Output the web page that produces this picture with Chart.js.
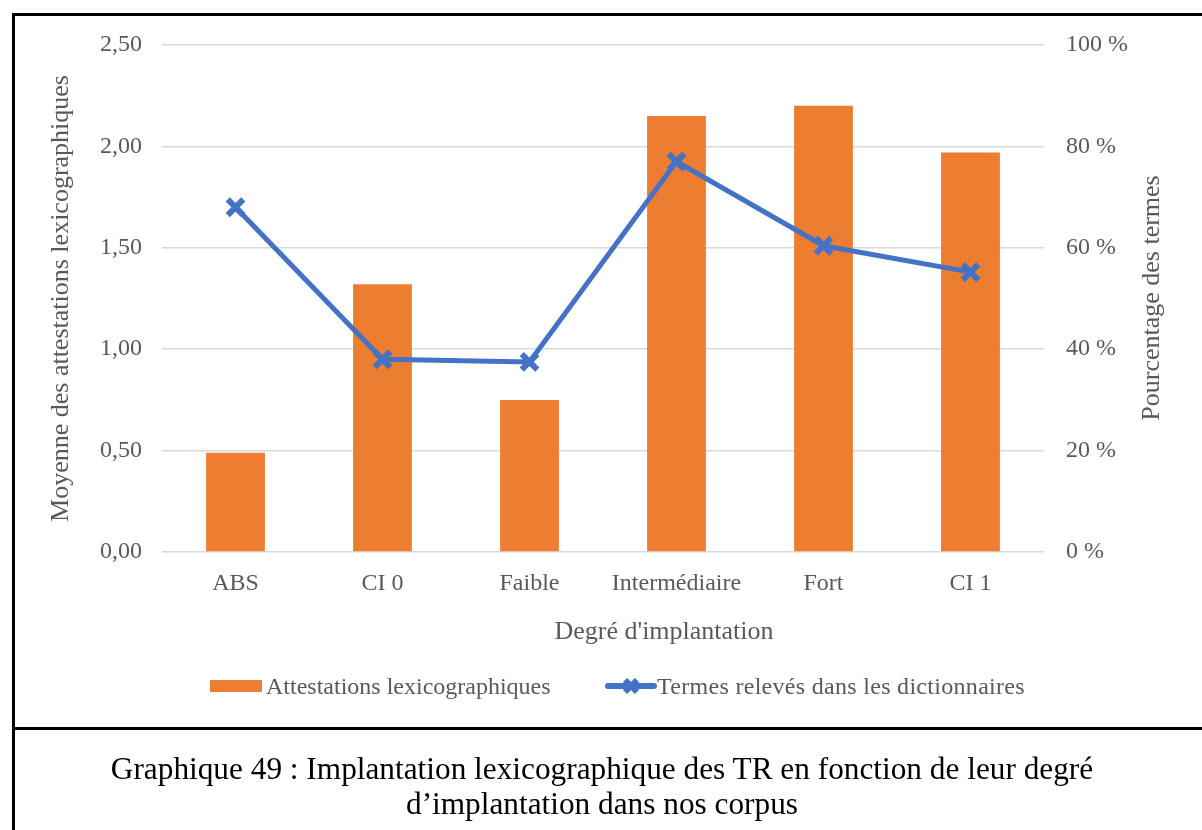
<!DOCTYPE html>
<html>
<head>
<meta charset="utf-8">
<script src="https://cdn.jsdelivr.net/npm/chart.js@4.4.1/dist/chart.umd.min.js"></script>
<style>
  html, body { margin: 0; padding: 0; background: #fff; }
  body { width: 1202px; height: 830px; position: relative; overflow: hidden; font-family: "Liberation Serif", "Times New Roman", serif; }
  #chartWrap { position: absolute; left: 0; top: 0; width: 1202px; height: 728px; }
  #frame { position: absolute; left: 12px; top: 13px; width: 1300px; height: 900px; border-left: 3px solid #000; border-top: 3px solid #000; }
  #divider { position: absolute; left: 12px; top: 727px; width: 1300px; height: 3px; background: #000; }
  #legend { position: absolute; left: 0; top: 671px; width: 1202px; height: 30px; color: #595959; font-size: 24px; }
  .item { position: absolute; top: 0; white-space: nowrap; line-height: 30px; }
  .item svg { position: absolute; top: 0; }
  #caption { position: absolute; left: 15px; top: 751px; width: 1174px; text-align: center; font-size: 31.3px; line-height: 35px; color: #000; }
</style>
</head>
<body>
<div id="chartWrap"><canvas id="chart"></canvas></div>
<div id="frame"></div>
<div id="divider"></div>
<div id="legend">
  <div class="item" style="left:210px">
    <svg width="52" height="30"><rect x="0" y="9" width="52" height="12" fill="#ED7D31"/></svg>
    <span style="margin-left:56px">Attestations lexicographiques</span>
  </div>
  <div class="item" style="left:605px">
    <svg width="52" height="30">
      <line x1="3" y1="15" x2="49" y2="15" stroke="#4472C4" stroke-width="6" stroke-linecap="round"/>
      <line x1="20" y1="9" x2="32" y2="21" stroke="#4472C4" stroke-width="6"/>
      <line x1="32" y1="9" x2="20" y2="21" stroke="#4472C4" stroke-width="6"/>
    </svg>
    <span style="margin-left:52px; letter-spacing:0.3px">Termes relevés dans les dictionnaires</span>
  </div>
</div>
<div id="caption">Graphique 49 : Implantation lexicographique des TR en fonction de leur degré<br>d’implantation dans nos corpus</div>

<script>
// degrés d'implantation
var categories = ["ABS", "CI 0", "Faible", "Intermédiaire", "Fort", "CI 1"];
// moyenne des attestations lexicographiques (axe gauche)
var attestations = [0.49, 1.32, 0.75, 2.15, 2.20, 1.97];
// pourcentage des termes relevés dans les dictionnaires (axe droit)
var termesPct = [68, 38, 37.5, 77, 60.4, 55.2];

var leftTicks = [0, 0.5, 1, 1.5, 2, 2.5];
var rightTicks = [0, 20, 40, 60, 80, 100];

var serif = "'Liberation Serif', 'Times New Roman', serif";
var grey = "#595959";

// titres posés à la main : celui de droite se lit de bas en haut,
// celui de l'axe x est décalé vers la droite
var extraTitles = {
  id: "extraTitles",
  afterDraw: function (chart) {
    var ctx = chart.ctx;
    ctx.save();
    ctx.font = "26px " + serif;
    ctx.fillStyle = grey;
    ctx.textAlign = "center";
    ctx.textBaseline = "middle";
    ctx.fillText("Degré d'implantation", 664, 632);
    ctx.translate(1152, 298);
    ctx.rotate(-Math.PI / 2);
    ctx.fillText("Pourcentage des termes", 0, 0);
    ctx.restore();
  }
};

var whiteBg = {
  id: "whiteBg",
  beforeDraw: function (chart) {
    var ctx = chart.ctx;
    ctx.save();
    ctx.fillStyle = "#fff";
    ctx.fillRect(0, 0, chart.width, chart.height);
    ctx.restore();
  }
};

var ctx = document.getElementById("chart").getContext("2d");
new Chart(ctx, {
  data: {
    labels: categories,
    datasets: [
      {
        type: "line",
        label: "Termes relevés dans les dictionnaires",
        data: termesPct,
        yAxisID: "y1",
        borderColor: "#4472C4",
        backgroundColor: "#4472C4",
        borderWidth: 5,
        tension: 0,
        pointStyle: "crossRot",
        pointRadius: 11,
        pointBorderWidth: 6,
        pointBorderColor: "#4472C4",
        order: 0,
      },
      {
        type: "bar",
        label: "Attestations lexicographiques",
        data: attestations,
        yAxisID: "y",
        backgroundColor: "#ED7D31",
        borderWidth: 0,
        barPercentage: 0.4,
        categoryPercentage: 1.0,
        order: 1,
      },
    ],
  },
  options: {
    responsive: true,
    maintainAspectRatio: false,
    animation: false,
    layout: { padding: { top: 45 } },
    plugins: {
      legend: { display: false },
      tooltip: { enabled: false },
    },
    scales: {
      x: {
        grid: { display: false },
        border: { display: false },
        ticks: { color: grey, font: { family: serif, size: 24 }, padding: 9 },
        afterFit: function (scale) { scale.height = 176; },
      },
      y: {
        position: "left",
        min: 0,
        max: 2.5,
        afterBuildTicks: function (scale) {
          scale.ticks = leftTicks.map(function (v) { return { value: v }; });
        },
        grid: { color: "#D9D9D9", lineWidth: 1.5, drawTicks: false },
        border: { display: false },
        ticks: {
          color: grey,
          font: { family: serif, size: 24 },
          padding: 20,
          callback: function (v) { return v.toFixed(2).replace(".", ","); },
        },
        title: {
          display: true,
          text: "Moyenne des attestations lexicographiques",
          color: grey,
          font: { family: serif, size: 26 },
          padding: { top: 46, bottom: 0 },
        },
        afterFit: function (scale) { scale.width = 162; },
      },
      y1: {
        position: "right",
        min: 0,
        max: 100,
        afterBuildTicks: function (scale) {
          scale.ticks = rightTicks.map(function (v) { return { value: v }; });
        },
        grid: { display: false, drawTicks: false },
        border: { display: false },
        ticks: {
          color: grey,
          font: { family: serif, size: 24 },
          padding: 22,
          callback: function (v) { return v + " %"; },
        },
        afterFit: function (scale) { scale.width = 158; },
      },
    },
  },
  plugins: [whiteBg, extraTitles],
});
</script>
</body>
</html>
